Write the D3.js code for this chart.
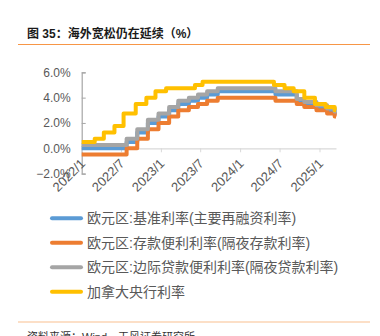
<!DOCTYPE html>
<html><head><meta charset="utf-8">
<script src="https://cdn.jsdelivr.net/npm/d3@7"></script>
<style>
html,body{margin:0;padding:0;background:#fff;}
svg{display:block;font-family:"Liberation Sans","Noto Sans CJK SC",sans-serif;}
</style></head>
<body><svg id="c" width="380" height="336"></svg>
<script>
const ecbDates = ["2022-01-01","2022-07-27","2022-09-14","2022-11-02","2022-12-21","2023-02-08","2023-03-22","2023-05-10","2023-06-21","2023-08-02","2023-09-20","2024-06-12","2024-09-18","2024-10-23","2024-12-18","2025-02-05","2025-03-12"];
const mroRates     = [0, 0.5, 1.25, 2.0, 2.5, 3.0, 3.5, 3.75, 4.0, 4.25, 4.5, 4.25, 3.65, 3.4, 3.15, 2.9, 2.65];
const depositRates = [-0.5, 0, 0.75, 1.5, 2.0, 2.5, 3.0, 3.25, 3.5, 3.75, 4.0, 3.75, 3.5, 3.25, 3.0, 2.75, 2.5];
const mlfRates     = [0.25, 0.75, 1.5, 2.25, 2.75, 3.25, 3.75, 4.0, 4.25, 4.5, 4.75, 4.5, 3.9, 3.65, 3.4, 3.15, 2.9];
const bocDates = ["2022-01-01","2022-03-02","2022-04-13","2022-06-01","2022-07-13","2022-09-07","2022-10-26","2022-12-07","2023-01-25","2023-06-07","2023-07-12","2024-06-05","2024-07-24","2024-09-04","2024-10-23","2024-12-11","2025-01-29","2025-03-12"];
const bocRates = [0.5, 0.75, 1.25, 1.75, 2.75, 3.5, 4.0, 4.5, 4.75, 5.0, 5.25, 5.0, 4.75, 4.5, 4.0, 3.5, 3.25, 3.0];
const endDate = "2025-03-18";
const seriesNames = ["欧元区:基准利率(主要再融资利率)","欧元区:存款便利利率(隔夜存款利率)","欧元区:边际贷款便利利率(隔夜贷款利率)","加拿大央行利率"];
const seriesColors = ["#5B9BD5","#ED7D31","#A5A5A5","#FFC000"];
const yTicks = [-2, 0, 2, 4, 6];
const xTickLabels = ["2022/1","2022/7","2023/1","2023/7","2024/1","2024/7","2025/1"];
const titleText = "图 35：海外宽松仍在延续（%）";
const sourceText = "资料来源：Wind，天风证券研究所";

const parse = d3.timeParse("%Y-%m-%d");
const parseTick = d3.timeParse("%Y/%m");
function build(dates, vals){
  const pts = dates.map((d,i)=>({date:parse(d), v:vals[i]}));
  pts.push({date:parse(endDate), v:vals[vals.length-1]});
  return pts;
}
const series = [build(ecbDates, mroRates), build(ecbDates, depositRates), build(ecbDates, mlfRates), build(bocDates, bocRates)];

const svg = d3.select("#c");
const x = d3.scaleTime().domain([parse("2022-01-01"), parse(endDate)]).range([81.7, 336]);
const y = d3.scaleLinear().domain([-2, 6]).range([173.6, 72.3]);

// title
svg.append("text").attr("x",27).attr("y",38).attr("font-size",12).attr("font-weight","bold")
  .attr("fill","#1a1a1a").text(titleText);
svg.append("line").attr("x1",18).attr("x2",370).attr("y1",44.5).attr("y2",44.5)
  .attr("stroke","#F79646").attr("stroke-width",1.2);

// y axis
const yAxis = d3.axisLeft(y).tickValues(yTicks).tickSize(-4).tickPadding(11)
  .tickFormat(d=>d3.format(".1f")(d)+"%");
const gy = svg.append("g").attr("transform","translate(81.7,0)").call(yAxis);
gy.select(".domain").attr("stroke","#a6a6a6").attr("stroke-width",1.2);
gy.selectAll(".tick line").attr("stroke","#a6a6a6");
gy.selectAll(".tick text").attr("fill","#595959").attr("font-size",12)
  .attr("font-family","'Liberation Sans',sans-serif");

// x axis at zero
const xAxis = d3.axisBottom(x).tickValues(xTickLabels.map(parseTick)).tickSize(4)
  .tickFormat((d,i)=>xTickLabels[i]).tickSizeOuter(0);
const gx = svg.append("g").attr("transform",`translate(0,${y(0)})`).call(xAxis);
gx.select(".domain").attr("stroke","#d9d9d9").attr("stroke-width",1.2);
gx.selectAll(".tick line").attr("stroke","#d9d9d9");
gx.selectAll(".tick text").attr("fill","#595959").attr("font-size",13)
  .attr("font-family","'Liberation Sans',sans-serif")
  .attr("text-anchor","end").attr("dy","0").attr("y",0)
  .attr("transform","translate(4,16) rotate(-45)");

// lines
const line = d3.line().x(d=>x(d.date)).y(d=>y(d.v)).curve(d3.curveStepAfter);
series.forEach((s,i)=>{
  svg.append("path").datum(s).attr("d",line).attr("fill","none")
    .attr("stroke",seriesColors[i]).attr("stroke-width",4).attr("stroke-linejoin","round");
});

// legend
const ly = [218.3, 242.7, 267.3, 291.7];
seriesNames.forEach((n,i)=>{
  svg.append("line").attr("x1",52).attr("x2",81).attr("y1",ly[i]).attr("y2",ly[i])
    .attr("stroke",seriesColors[i]).attr("stroke-width",4).attr("stroke-linecap","round");
  svg.append("text").attr("x",87).attr("y",ly[i]+5).attr("font-size",14)
    .attr("fill","#595959").text(n);
});

// bottom rule and source
svg.append("line").attr("x1",18).attr("x2",370).attr("y1",322).attr("y2",322)
  .attr("stroke","#FAC090").attr("stroke-width",1.2);
svg.append("text").attr("x",27).attr("y",341).attr("font-size",11).attr("fill","#333").text(sourceText);
</script></body></html>
